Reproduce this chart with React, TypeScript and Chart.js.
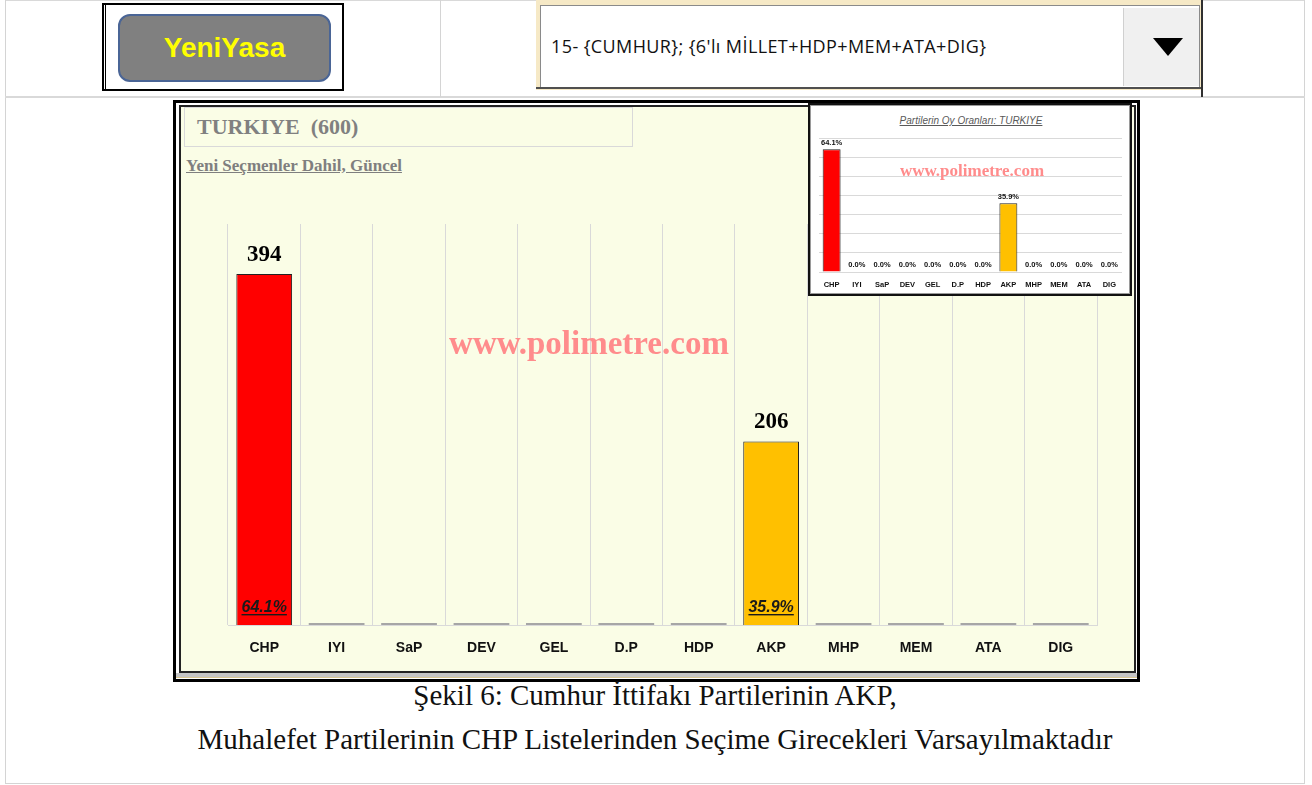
import React, { useEffect, useRef } from "react";
import { Chart, registerables } from "chart.js";

Chart.register(...registerables);

const categories = ["CHP", "IYI", "SaP", "DEV", "GEL", "D.P", "HDP", "AKP", "MHP", "MEM", "ATA", "DIG"];
const seats = [394, 0, 0, 0, 0, 0, 0, 206, 0, 0, 0, 0];
const percents = [64.1, 0, 0, 0, 0, 0, 0, 35.9, 0, 0, 0, 0];
const barColors = ["#ff0000", "#a6a6a6", "#a6a6a6", "#a6a6a6", "#a6a6a6", "#a6a6a6", "#a6a6a6", "#ffc000", "#a6a6a6", "#a6a6a6", "#a6a6a6", "#a6a6a6"];
const insetColors = ["#ff0000", "#ffffff", "#ffffff", "#ffffff", "#ffffff", "#ffffff", "#ffffff", "#ffc000", "#ffffff", "#ffffff", "#ffffff", "#ffffff"];
const mainMax = 450;
const insetMax = 70;
const insetStep = 10;

const SERIF = '"Liberation Serif", "Times New Roman", serif';
const SANS = '"Liberation Sans", Arial, sans-serif';

const mainLabels = {
  id: "mainLabels",
  afterDatasetsDraw(chart: any) {
    const ctx = chart.ctx;
    const meta = chart.getDatasetMeta(0);
    meta.data.forEach((bar: any, i: number) => {
      const v = seats[i];
      if (!v) return;
      const p = bar.getProps(["x", "y", "base"], true);
      ctx.save();
      ctx.fillStyle = "#000";
      ctx.textAlign = "center";
      ctx.textBaseline = "middle";
      ctx.font = `bold 23px ${SERIF}`;
      ctx.fillText(String(v), p.x, p.y - 19);
      const t = percents[i].toFixed(1) + "%";
      ctx.font = `italic bold 16px ${SANS}`;
      ctx.fillStyle = "#1a1a1a";
      ctx.textBaseline = "alphabetic";
      ctx.fillText(t, p.x, p.base - 13);
      const w = ctx.measureText(t).width;
      ctx.fillRect(p.x - w / 2, p.base - 11, w, 1.4);
      ctx.restore();
    });
  },
};

const insetLabels = {
  id: "insetLabels",
  afterDatasetsDraw(chart: any) {
    const ctx = chart.ctx;
    const meta = chart.getDatasetMeta(0);
    meta.data.forEach((bar: any, i: number) => {
      const p = bar.getProps(["x", "y"], true);
      ctx.save();
      ctx.fillStyle = "#111";
      ctx.textAlign = "center";
      ctx.textBaseline = "bottom";
      ctx.font = `bold 7.5px ${SANS}`;
      ctx.fillText(percents[i].toFixed(1) + "%", p.x, p.y - 3);
      ctx.restore();
    });
  },
};

function MainChart() {
  const ref = useRef<HTMLCanvasElement>(null);
  useEffect(() => {
    const chart = new Chart(ref.current as HTMLCanvasElement, {
      type: "bar",
      data: {
        labels: categories,
        datasets: [
          {
            data: seats,
            backgroundColor: barColors,
            borderColor: seats.map((v) => (v ? "#222" : "rgba(0,0,0,0)")),
            borderWidth: seats.map((v) => (v ? 1 : 0)),
            minBarLength: 2,
            categoryPercentage: 1,
            barPercentage: 0.77,
          },
        ],
      },
      options: {
        responsive: false,
        animation: false,
        devicePixelRatio: 1,
        layout: { padding: { left: 48, right: 37, top: 34, bottom: 0 } },
        plugins: { legend: { display: false }, tooltip: { enabled: false } },
        scales: {
          x: {
            grid: { color: "#d9d9d9", drawTicks: false, offset: true },
            border: { color: "#d9d9d9" },
            ticks: {
              color: "#111",
              font: { family: SANS, size: 14, weight: "bold" },
              padding: 15,
              autoSkip: false,
              maxRotation: 0,
            },
            afterFit: (s: any) => {
              s.height = 47;
            },
          },
          y: { display: false, min: 0, max: mainMax },
        },
      },
      plugins: [mainLabels],
    } as any);
    return () => chart.destroy();
  }, []);
  return <canvas ref={ref} width={954} height={482} style={{ position: "absolute", left: 180, top: 190, width: 954, height: 482 }} />;
}

function InsetChart() {
  const ref = useRef<HTMLCanvasElement>(null);
  useEffect(() => {
    const chart = new Chart(ref.current as HTMLCanvasElement, {
      type: "bar",
      data: {
        labels: categories,
        datasets: [
          {
            data: percents,
            backgroundColor: insetColors,
            borderColor: percents.map((v) => (v ? "#222" : "rgba(0,0,0,0)")),
            borderWidth: percents.map((v) => (v ? 1 : 0)),
            categoryPercentage: 1,
            barPercentage: 0.71,
          },
        ],
      },
      options: {
        responsive: false,
        animation: false,
        devicePixelRatio: 1,
        layout: { padding: { left: 7, right: 8, top: 31, bottom: 0 } },
        plugins: { legend: { display: false }, tooltip: { enabled: false } },
        scales: {
          x: {
            grid: { display: false, drawTicks: false },
            border: { display: false },
            ticks: {
              color: "#111",
              font: { family: SANS, size: 7.5, weight: "bold" },
              padding: 8,
              autoSkip: false,
              maxRotation: 0,
            },
            afterFit: (s: any) => {
              s.height = 21;
            },
          },
          y: {
            min: 0,
            max: insetMax,
            ticks: { display: false, stepSize: insetStep },
            grid: { color: "#d9d9d9", drawTicks: false },
            border: { display: false },
            afterFit: (s: any) => {
              s.width = 0;
            },
          },
        },
      },
      plugins: [insetLabels],
    } as any);
    return () => chart.destroy();
  }, []);
  return <canvas ref={ref} width={318} height={186} style={{ position: "absolute", left: 812, top: 107, width: 318, height: 186 }} />;
}

const abs = (s: React.CSSProperties): React.CSSProperties => ({ position: "absolute", boxSizing: "border-box", ...s });

export default function App() {
  return (
    <div style={abs({ left: 0, top: 0, width: 1312, height: 785, background: "#fff", overflow: "hidden" })}>
      {/* table lines */}
      <div style={abs({ left: 5, top: 0, width: 1300, height: 1, background: "#d9d9d9" })} />
      <div style={abs({ left: 5, top: 0, width: 1, height: 784, background: "#d4d4d4" })} />
      <div style={abs({ left: 1304, top: 0, width: 1, height: 784, background: "#d4d4d4" })} />
      <div style={abs({ left: 5, top: 783, width: 1300, height: 1, background: "#d4d4d4" })} />
      <div style={abs({ left: 5, top: 96, width: 1300, height: 2, background: "#d9d9d9" })} />
      <div style={abs({ left: 440, top: 0, width: 1, height: 97, background: "#d4d4d4" })} />

      {/* YeniYasa button */}
      <div style={abs({ left: 102, top: 3, width: 242, height: 88, border: "2px solid #000" })} />
      <div style={abs({ left: 105, top: 3, width: 1, height: 88, background: "#000" })} />
      <div
        style={abs({
          left: 118,
          top: 14,
          width: 213,
          height: 68,
          background: "#808080",
          border: "2px solid #4a6596",
          borderRadius: 12,
          color: "#ffff00",
          fontFamily: SANS,
          fontWeight: "bold",
          fontSize: 28,
          display: "flex",
          alignItems: "center",
          justifyContent: "center",
        })}
      >
        YeniYasa
      </div>

      {/* Dropdown */}
      <div style={abs({ left: 536, top: 0, width: 666, height: 90, background: "#f6e9c6" })} />
      <div style={abs({ left: 540, top: 5, width: 660, height: 83, background: "#fff", border: "1px solid #8a8a8a" })} />
      <div style={abs({ left: 536, top: 87, width: 666, height: 2, background: "#505050" })} />
      <div style={abs({ left: 1201, top: 0, width: 2, height: 97, background: "#303030" })} />
      <div
        style={abs({
          left: 551,
          top: 33,
          fontFamily: '"Open Sans", sans-serif',
          fontSize: 18,
          letterSpacing: 0.4,
          color: "#111",
          whiteSpace: "pre",
          lineHeight: "26px",
        })}
      >
        15- {"{CUMHUR}; {6'lı MİLLET+HDP+MEM+ATA+DIG}"}
      </div>
      <div style={abs({ left: 1123, top: 8, width: 76, height: 78, background: "#f0f0f0", borderLeft: "1px solid #d0d0d0" })} />
      <div
        style={abs({
          left: 1153,
          top: 38,
          width: 0,
          height: 0,
          borderLeft: "15px solid transparent",
          borderRight: "15px solid transparent",
          borderTop: "18px solid #000",
        })}
      />

      {/* Main frame */}
      <div style={abs({ left: 173, top: 100, width: 967, height: 582, border: "3px solid #000", background: "#fff" })} />
      <div style={abs({ left: 176, top: 673, width: 961, height: 5, background: "#c4c4c4", borderBottom: "1px solid #d8c590" })} />
      <div style={abs({ left: 179, top: 105, width: 957, height: 568, border: "2px solid #222", background: "#fafde6" })} />

      {/* Title */}
      <div style={abs({ left: 184, top: 107, width: 449, height: 40, border: "1px solid #d9d9d9" })} />
      <div
        style={abs({
          left: 197,
          top: 113,
          fontFamily: SERIF,
          fontWeight: "bold",
          fontSize: 22,
          color: "#808080",
          whiteSpace: "pre",
          lineHeight: "28px",
        })}
      >
        {"TURKIYE  (600)"}
      </div>
      <div
        style={abs({
          left: 186,
          top: 155,
          fontFamily: SERIF,
          fontWeight: "bold",
          fontSize: 17,
          color: "#7f7f7f",
          textDecoration: "underline",
          whiteSpace: "pre",
          lineHeight: "22px",
        })}
      >
        Yeni Seçmenler Dahil, Güncel
      </div>

      <MainChart />

      <div
        style={abs({
          left: 389,
          top: 323,
          width: 400,
          textAlign: "center",
          fontFamily: SERIF,
          fontWeight: "bold",
          fontSize: 33,
          color: "#ff8c8c",
          lineHeight: "40px",
        })}
      >
        www.polimetre.com
      </div>

      {/* Inset */}
      <div style={abs({ left: 808, top: 103, width: 324, height: 193, border: "2px solid #111", background: "#fff" })} />
      <div style={abs({ left: 810, top: 105, width: 320, height: 189, border: "1px solid #9a9a9a" })} />
      <div
        style={abs({
          left: 812,
          top: 114,
          width: 318,
          textAlign: "center",
          fontFamily: SANS,
          fontStyle: "italic",
          fontSize: 10,
          color: "#595959",
          textDecoration: "underline",
          lineHeight: "14px",
        })}
      >
        Partilerin Oy Oranları: TURKIYE
      </div>
      <InsetChart />
      <div
        style={abs({
          left: 872,
          top: 160,
          width: 200,
          textAlign: "center",
          fontFamily: SERIF,
          fontWeight: "bold",
          fontSize: 17,
          color: "#ff8c8c",
          lineHeight: "22px",
        })}
      >
        www.polimetre.com
      </div>

      {/* Caption */}
      <div
        style={abs({
          left: 0,
          top: 673,
          width: 1310,
          textAlign: "center",
          fontFamily: SERIF,
          fontSize: 29,
          color: "#111",
          lineHeight: "44px",
        })}
      >
        Şekil 6: Cumhur İttifakı Partilerinin AKP,
        <br />
        Muhalefet Partilerinin CHP Listelerinden Seçime Girecekleri Varsayılmaktadır
      </div>
    </div>
  );
}
